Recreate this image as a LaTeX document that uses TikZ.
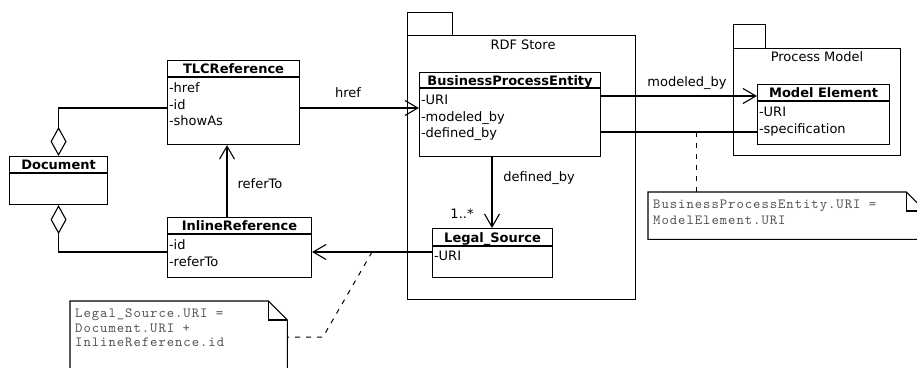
\documentclass[tikz,border=0pt]{standalone}
\usepackage{fontspec}
\setmainfont{DejaVu Sans}
\newfontfamily\notefont{lmmono10-regular}[Extension=.otf,LetterSpace=7]
\usetikzlibrary{arrows.meta,calc}
\tikzset{
  ln/.style={line width=1.1pt},
  cls/.style={draw, line width=1.1pt, rectangle, inner sep=0pt, anchor=north west},
  blank/.style={rectangle, inner sep=0pt, anchor=north west},
  ttl/.style={font=\fontsize{13}{16}\selectfont\bfseries, anchor=base, inner sep=0pt},
  att/.style={font=\fontsize{13}{16}\selectfont, anchor=base west, inner sep=0pt},
  lbl/.style={font=\fontsize{13}{16}\selectfont, anchor=base, inner sep=0pt},
  notetxt/.style={font=\notefont\fontsize{14}{15}\selectfont, text=black!68, anchor=base west, inner sep=0pt},
  barb/.style={line width=1.1pt, -{Straight Barb[length=13pt,width=15pt]}},
  agg/.style={line width=1.1pt, {Diamond[open,length=29pt,width=16pt]}-},
  dsh/.style={line width=1pt, dash pattern=on 5pt off 6pt},
}
\begin{document}
\begin{tikzpicture}[x=1pt,y=-1pt]
\useasboundingbox (0,0) rectangle (917,367);

% helper coordinates
\coordinate (yA) at (0,108);
\coordinate (yB) at (0,252);
\coordinate (yC) at (0,96);
\coordinate (yD) at (0,132);
\coordinate (xR) at (227,0);
\coordinate (xD) at (492,0);

% packages
\node[cls, minimum width=228pt, minimum height=264pt] (rdf) at (407,35) {};
\node[cls, minimum width=45pt, minimum height=23pt] (rdftab) at (407,12) {};
\node[lbl] (rdfL) at (523,49) {RDF Store};
\node[cls, minimum width=167pt, minimum height=107pt] (pm) at (733,48) {};
\node[cls, minimum width=32pt, minimum height=24pt] (pmtab) at (733,24) {};
\node[lbl] (pmL) at (817,61.7) {Process Model};

% classes
\node[cls, minimum width=98pt, minimum height=48pt] (doc) at (9,156) {};
\draw[ln] ($(doc.north west)+(0,17)$) -- ($(doc.north east)+(0,17)$);
\node[ttl] (docT) at ($(doc.north)+(0,13.9)$) {Document};

\node[cls, minimum width=132pt, minimum height=84pt] (tlc) at (167,60) {};
\draw[ln] ($(tlc.north west)+(0,17)$) -- ($(tlc.north east)+(0,17)$);
\node[ttl] (tlcT) at ($(tlc.north)+(0,13.5)$) {TLCReference};
\node[att] (tlcA) at ($(tlc.north west)+(1.8,32.3)$) {-href};
\node[att] (tlcB) at ($(tlc.north west)+(1.8,49.1)$) {-id};
\node[att] (tlcC) at ($(tlc.north west)+(1.8,65.9)$) {-showAs};

\node[cls, minimum width=144pt, minimum height=60pt] (ilr) at (167,217) {};
\draw[ln] ($(ilr.north west)+(0,17)$) -- ($(ilr.north east)+(0,17)$);
\node[ttl] (ilrT) at ($(ilr.north)+(0,13.5)$) {InlineReference};
\node[att] (ilrA) at ($(ilr.north west)+(1.8,32.3)$) {-id};
\node[att] (ilrB) at ($(ilr.north west)+(1.8,49.1)$) {-referTo};

\node[cls, minimum width=181pt, minimum height=84pt] (bpe) at (419,72) {};
\draw[ln] ($(bpe.north west)+(0,16)$) -- ($(bpe.north east)+(0,16)$);
\node[ttl] (bpeT) at ($(bpe.north)+(0,13.5)$) {BusinessProcessEntity};
\node[att] (bpeA) at ($(bpe.north west)+(1.8,32.3)$) {-URI};
\node[att] (bpeB) at ($(bpe.north west)+(1.8,49.1)$) {-modeled\_by};
\node[att] (bpeC) at ($(bpe.north west)+(1.8,65.9)$) {-defined\_by};

\node[cls, minimum width=120pt, minimum height=49pt] (legal) at (432,228) {};
\draw[ln] ($(legal.north west)+(0,18)$) -- ($(legal.north east)+(0,18)$);
\node[ttl] (legalT) at ($(legal.north)+(0,14.3)$) {Legal\_Source};
\node[att] (legalA) at ($(legal.north west)+(1.8,32.8)$) {-URI};

\node[cls, minimum width=132pt, minimum height=60pt] (me) at (757,84) {};
\draw[ln] ($(me.north west)+(0,17)$) -- ($(me.north east)+(0,17)$);
\node[ttl] (meT) at ($(me.north)+(0,13.5)$) {Model Element};
\node[att] (meA) at ($(me.north west)+(1.8,32.3)$) {-URI};
\node[att] (meB) at ($(me.north west)+(1.8,49)$) {-specification};

% notes
\node[blank, minimum width=217pt, minimum height=100pt] (note1) at (70,301) {};
\draw[ln] (note1.north west) -- ($(note1.north east)+(-19,0)$) -- ($(note1.north east)+(0,19)$) -- (note1.south east) -- (note1.south west) -- cycle;
\draw[ln] ($(note1.north east)+(-19,0)$) -- ($(note1.north east)+(-19,19)$) -- ($(note1.north east)+(0,19)$);
\node[notetxt] (n1a) at (75,317.7) {Legal\_Source.URI =};
\node[notetxt] (n1b) at (75,332.2) {Document.URI +};
\node[notetxt] (n1c) at (75,346.7) {InlineReference.id};

\node[blank, minimum width=277pt, minimum height=47pt] (note2) at (648,192) {};
\draw[ln] (note2.north west) -- ($(note2.north east)+(-19,0)$) -- ($(note2.north east)+(0,19)$) -- (note2.south east) -- (note2.south west) -- cycle;
\draw[ln] ($(note2.north east)+(-19,0)$) -- ($(note2.north east)+(-19,19)$) -- ($(note2.north east)+(0,19)$);
\node[notetxt] (n2a) at (653,208.3) {BusinessProcessEntity.URI =};
\node[notetxt] (n2b) at (653,224) {ModelElement.URI};

% connectors
\draw[agg] (doc.north) |- (tlc.west |- yA);
\draw[agg] (doc.south) |- (ilr.west |- yB);
\draw[barb] (ilr.north -| xR) -- (tlc.south -| xR);
\node[lbl] (referL) at (260,188.3) {referTo};
\draw[barb] (tlc.east |- yA) -- (bpe.west |- yA);
\node[lbl] (hrefL) at (348,97.3) {href};
\draw[barb] (bpe.east |- yC) -- (me.west |- yC);
\node[lbl] (modL) at (687,86) {modeled\_by};
\draw[ln] (bpe.east |- yD) -- (me.west |- yD);
\draw[barb] (bpe.south -| xD) -- (legal.north -| xD);
\node[lbl] (defL) at (539,181.7) {defined\_by};
\node[lbl] (multL) at (462,218.3) {1..*};
\draw[barb] (legal.west |- yB) -- (ilr.east |- yB);

% note links
\coordinate (dn2) at (696,132);
\draw[dsh] (dn2) -- (dn2 |- note2.north);
\coordinate (dn1) at (372,252);
\coordinate (bend1) at (323,337);
\draw[dsh] (dn1) -- (bend1) -- (bend1 -| note1.east);
\end{tikzpicture}
\end{document}
